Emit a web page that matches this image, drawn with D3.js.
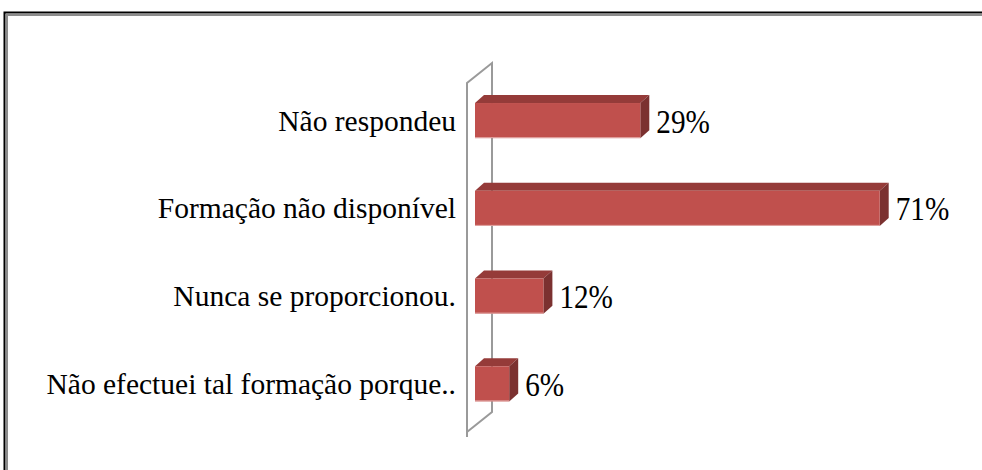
<!DOCTYPE html>
<html>
<head>
<meta charset="utf-8">
<script src="https://cdn.jsdelivr.net/npm/d3@7"></script>
</head>
<body style="margin:0">
<script>
var categories = ["Não respondeu", "Formação não disponível", "Nunca se proporcionou.", "Não efectuei tal formação porque.."];
var values = [29, 71, 12, 6];
var valueLabels = ["29%", "71%", "12%", "6%"];

var width = 982, height = 470;
var depthX = 9, depthY = 8;
var serif = "'Times New Roman', 'Liberation Serif', serif";

var svg = d3.select("body").append("svg")
  .attr("width", width)
  .attr("height", height)
  .attr("font-family", serif);

// outer frame (only top and left edges visible)
svg.append("path")
  .attr("d", "M4.5,470 V12.5 H982")
  .attr("fill", "none")
  .attr("stroke", "#000")
  .attr("stroke-width", 2);
svg.append("path")
  .attr("d", "M7,470 V15 H982")
  .attr("fill", "none")
  .attr("stroke", "#8c8c8c")
  .attr("stroke-width", 2);

var x = d3.scaleLinear().domain([0, 75]).range([475, 902.5]);
var y = d3.scaleBand().domain(categories).range([76.7, 427.7])
  .paddingInner(0.6).paddingOuter(0.3);

// back wall of the 3D chart
var x0 = x(0);
var wallL = x0 - 8, wallR = x0 + 17;
var wallTop = 83, wallBot = 432;
svg.append("path")
  .attr("d", "M" + wallL + "," + (wallBot + 5) + " V" + wallTop +
             " L" + wallR + "," + (wallTop - 20) + " V" + (wallBot - 20) +
             " L" + wallL + "," + wallBot)
  .attr("fill", "none")
  .attr("stroke", "#9a9a9a")
  .attr("stroke-width", 2);

var bars = svg.selectAll("g.bar")
  .data(values)
  .enter()
  .append("g")
  .attr("class", "bar");

// top face
bars.append("path")
  .attr("d", function(d, i) {
    var yt = y(categories[i]), x1 = x(d);
    return "M" + x0 + "," + yt + " L" + (x0 + depthX) + "," + (yt - depthY) +
           " L" + (x1 + depthX) + "," + (yt - depthY) + " L" + x1 + "," + yt + "Z";
  })
  .attr("fill", "#953b39");

// right face
bars.append("path")
  .attr("d", function(d, i) {
    var yt = y(categories[i]), yb = yt + y.bandwidth(), x1 = x(d);
    return "M" + x1 + "," + yt + " L" + (x1 + depthX) + "," + (yt - depthY) +
           " L" + (x1 + depthX) + "," + (yb - depthY) + " L" + x1 + "," + yb + "Z";
  })
  .attr("fill", "#7b3130");

// front face
bars.append("rect")
  .attr("x", x0)
  .attr("y", function(d, i) { return y(categories[i]); })
  .attr("width", function(d) { return x(d) - x0; })
  .attr("height", y.bandwidth())
  .attr("fill", "#c0504d");

bars.append("line")
  .attr("x1", x0)
  .attr("x2", function(d) { return x(d); })
  .attr("y1", function(d, i) { return y(categories[i]) + y.bandwidth() - 0.5; })
  .attr("y2", function(d, i) { return y(categories[i]) + y.bandwidth() - 0.5; })
  .attr("stroke", "#e3a9a7")
  .attr("stroke-width", 1);

// category labels
svg.selectAll("text.cat")
  .data(categories)
  .enter()
  .append("text")
  .attr("class", "cat")
  .attr("x", 456)
  .attr("y", function(d) { return y(d) + y.bandwidth() / 2 + 10; })
  .attr("text-anchor", "end")
  .style("font-family", serif)
  .attr("font-size", 29.5)
  .attr("fill", "#000")
  .text(function(d) { return d; });

// value labels
svg.selectAll("text.val")
  .data(values)
  .enter()
  .append("text")
  .attr("class", "val")
  .attr("transform", function(d, i) {
    return "translate(" + (x(d) + 16) + "," + (y(categories[i]) + y.bandwidth() / 2 + 12) + ") scale(0.86,1)";
  })
  .style("font-family", serif)
  .attr("font-size", 34)
  .attr("fill", "#000")
  .text(function(d, i) { return valueLabels[i]; });
</script>
</body>
</html>
